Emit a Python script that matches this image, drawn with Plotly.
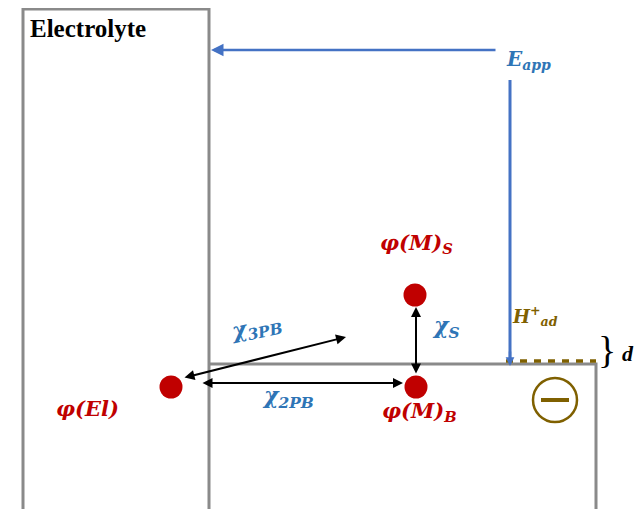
import plotly.graph_objects as go

# ---- diagram data (pixel-space coordinates of the schematic) ----
dot_names = ["φ(M)_S", "φ(M)_B", "φ(El)"]
dot_x = [415, 416, 171]
dot_y = [295, 387, 387]

label_texts = ["<b><i>φ(M)<sub>S</sub></i></b>", "<b><i>φ(M)<sub>B</sub></i></b>", "<b><i>φ(El)</i></b>"]
label_x = [416, 419, 87]
label_y = [243, 411, 408]

blue_texts = ["<b><i>χ<sub>S</sub></i></b>", "<b><i>χ<sub>2PB</sub></i></b>", "<b><i>χ<sub>3PB</sub></i></b>"]
blue_x = [446, 288, 256]
blue_y = [327, 397, 328]
blue_angle = [0, 0, -12]

# arrows: start x, start y, end x, end y, double-headed?
arrow_x0 = [497, 510, 416, 201, 183]
arrow_y0 = [50, 350, 375, 383, 378]
arrow_x1 = [211, 510, 416, 403, 346]
arrow_y1 = [50, 366, 307, 383, 337]
arrow_double = [False, False, True, True, True]

GRAY = "#8a8a8a"
RED = "#c00000"
BLUE = "#2e75b6"
BROWN = "#7f6000"
LBLUE = "#4472c4"
MATH = "DejaVu Serif"
arrow_color = [LBLUE, LBLUE, "black", "black", "black"]
arrow_width = [2.5, 2.5, 2, 2, 2]
arrow_size = [1.0, 0.7, 1.0, 1.0, 1.0]

fig = go.Figure()

shapes = []
# electrolyte box (open at bottom)
shapes.append(dict(type="path", path="M 23 520 L 23 9 L 209 9 L 209 520",
                   line=dict(color=GRAY, width=3)))
# metal box
shapes.append(dict(type="path", path="M 209 364 L 596 364 L 596 520",
                   line=dict(color=GRAY, width=3)))
# blue vertical line
shapes.append(dict(type="line", x0=510, y0=80, x1=510, y1=358, line=dict(color=LBLUE, width=3)))
# dashed brown H_ad layer
shapes.append(dict(type="line", x0=506, y0=361, x1=596, y1=361, line=dict(color=BROWN, width=3.5, dash="7px,7px")))
# circle with minus
shapes.append(dict(type="circle", x0=533, y0=378, x1=577, y1=422, line=dict(color=BROWN, width=2.5)))
shapes.append(dict(type="line", x0=541, y0=400, x1=569, y1=400, line=dict(color=BROWN, width=4)))

fig.add_trace(go.Scatter(x=dot_x, y=dot_y, mode="markers", text=dot_names,
                         marker=dict(size=23, color=RED), hoverinfo="text", showlegend=False))

annotations = []
for x0, y0, x1, y1, dbl, c, w, s in zip(arrow_x0, arrow_y0, arrow_x1, arrow_y1,
                                         arrow_double, arrow_color, arrow_width, arrow_size):
    annotations.append(dict(x=x1, y=y1, ax=x0, ay=y0, xref="x", yref="y", axref="x", ayref="y",
                            showarrow=True, arrowhead=2, arrowsize=s, arrowwidth=w,
                            arrowcolor=c, arrowside="end+start" if dbl else "end", text=""))

for t, x, y in zip(label_texts, label_x, label_y):
    annotations.append(dict(x=x, y=y, xref="x", yref="y", text=t, showarrow=False,
                            font=dict(family=MATH, size=21, color=RED)))
for t, x, y, a in zip(blue_texts, blue_x, blue_y, blue_angle):
    annotations.append(dict(x=x, y=y, xref="x", yref="y", text=t, showarrow=False, textangle=a,
                            font=dict(family=MATH, size=22, color=BLUE)))

annotations.append(dict(x=88, y=28, xref="x", yref="y", text="<b>Electrolyte</b>", showarrow=False,
                        font=dict(family="Liberation Serif", size=25, color="black")))
annotations.append(dict(x=528, y=60, xref="x", yref="y", text="<b><i>E<sub>app</sub></i></b>", showarrow=False,
                        font=dict(family=MATH, size=20, color=BLUE)))
annotations.append(dict(x=535, y=316, xref="x", yref="y", text="<b><i>H<sup>+</sup><sub>ad</sub></i></b>",
                        showarrow=False, font=dict(family=MATH, size=18, color=BROWN)))
annotations.append(dict(x=607, y=350, xref="x", yref="y", text="}", showarrow=False,
                        font=dict(family="Liberation Serif", size=38, color="black")))
annotations.append(dict(x=628, y=353, xref="x", yref="y", text="<b><i>d</i></b>", showarrow=False,
                        font=dict(family="Liberation Serif", size=22, color="black")))

# plotly's page has an 8px body margin: shift axis ranges so window pixels match reference pixels
fig.update_layout(
    width=642, height=509, margin=dict(l=0, r=0, t=0, b=0),
    plot_bgcolor="white", paper_bgcolor="white",
    xaxis=dict(range=[8, 650], visible=False, fixedrange=True),
    yaxis=dict(range=[517, 8], visible=False, fixedrange=True),
    shapes=shapes, annotations=annotations, showlegend=False,
)
fig.write_html("out.html")
